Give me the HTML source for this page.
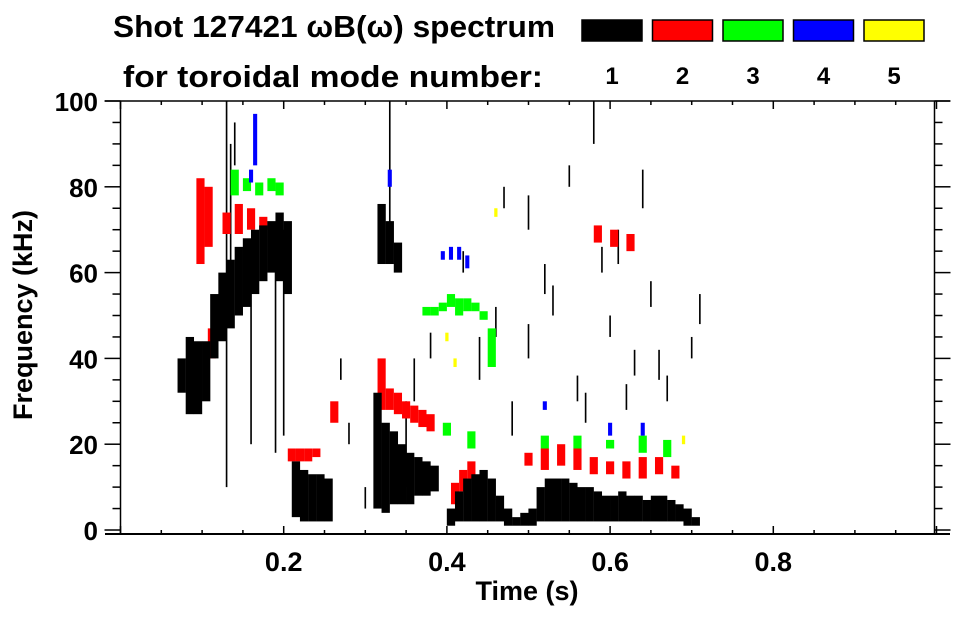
<!DOCTYPE html>
<html><head><meta charset="utf-8"><style>
body{margin:0;background:#fff;}
svg text{font-family:"Liberation Sans",sans-serif;font-weight:bold;fill:#000;}
</style></head><body>
<svg id="chart" width="963" height="615" xmlns="http://www.w3.org/2000/svg">
<text x="113" y="37" font-size="31" textLength="442" lengthAdjust="spacingAndGlyphs">Shot 127421 ωB(ω) spectrum</text>
<text x="123" y="87" font-size="31" textLength="420" lengthAdjust="spacingAndGlyphs">for toroidal mode number:</text>
<g id="legend"></g>
<g id="marks"></g>
<g id="axes"></g>
<text x="527" y="600" font-size="27" text-anchor="middle">Time (s)</text>
<text transform="translate(32,315) rotate(-90)" font-size="27" text-anchor="middle">Frequency (kHz)</text>
</svg>
<script>
const modeColors=["#000000","#ff0000","#00ff00","#0000ff","#ffff00"];
const modeLabels=["1","2","3","4","5"];
const xTicks=[0.2,0.4,0.6,0.8];
const yTicks=[0,20,40,60,80,100];
// mode 1 (black) columns
const m1T=[0.075,0.085,0.095,0.105,0.115,0.125,0.135,0.145,0.155,0.165,0.175,0.185,0.195,0.205,
0.215,0.225,0.235,0.245,0.255,
0.315,0.325,0.335,0.345,0.355,0.365,0.375,0.385,
0.32,0.33,0.34,
0.405,0.415,0.425,0.435,0.445,0.455,0.465,0.475,0.485,0.495,0.505,0.515,0.525,0.535,0.545,0.555,0.565,0.575,0.585,0.595,0.605,0.615,0.625,0.635,0.645,0.655,0.665,0.675,0.685,0.695,0.705];
const m1Lo=[32,27,27,30,40,44,47,50,52,55,58,60,58,55, 3,2,2,2,2, 5,4,6,6,6,8,8,9, 62,62,60,
1,2,2,2,2,2,2,1,1,1,1,2,2,2,2,2,2,2,2,2,2,2,2,2,2,2,2,2,2,1,1];
const m1Hi=[40,45,44,44,55,60,63,66,68,70,71,72,74,72, 16,14,13,13,12, 32,25,23,20,18,17,16,15, 76,72,67,
5,9,12,13,14,12,8,5,3,4,5,10,12,12,12,11,10,10,9,8,8,9,8,8,7,8,8,7,6,5,3];
// mode 2 (red)
const m2T=[0.098,0.108,0.13,0.145,0.16,0.175,0.112,0.21,0.22,0.23,0.24,0.262,0.32,0.33,0.34,0.35,0.36,0.37,0.38,0.41,0.42,0.43,
0.50,0.52,0.54,0.56,0.58,0.60,0.62,0.64,0.66,0.68,0.585,0.605,0.625];
const m2Lo=[62,66,69,69,70,70,40,16,16,16,17,25,28,28,27,26,25,24,23,6,9,12,15,14,15,14,13,13,12,12,13,12,67,66,65];
const m2Hi=[82,80,74,76,75,73,47,19,19,19,19,30,40,33,32,30,29,28,27,11,14,16,18,19,20,19,17,16,16,17,17,15,71,70,69];
// mode 3 (green)
const m3T=[0.14,0.155,0.17,0.185,0.195,0.375,0.385,0.395,0.405,0.415,0.425,0.435,0.445,0.455,0.52,0.56,0.6,0.64,0.67,0.4,0.43];
const m3Lo=[78,79,78,79,78,50,50,51,52,50,51,51,49,38,19,19,19,18,17,22,19];
const m3Hi=[84,82,81,82,81,52,52,53,55,54,54,53,51,47,22,22,21,22,21,25,23];
// mode 4 (blue)
const m4T=[0.16,0.165,0.395,0.405,0.415,0.425,0.33,0.52,0.6,0.64];
const m4Lo=[81,85,63,63,63,61,80,28,22,22];
const m4Hi=[84,97,65,66,66,64,84,30,25,25];
// mode 5 (yellow)
const m5T=[0.4,0.41,0.69,0.46];
const m5Lo=[44,38,20,73];
const m5Hi=[46,40,22,75];
// scattered black specks
const speckT=[0.13,0.135,0.16,0.19,0.2,0.14,0.27,0.28,0.3,0.35,0.38,0.42,0.44,0.47,0.48,0.5,0.5,0.52,0.55,0.56,0.57,0.58,0.6,0.61,0.62,0.64,0.65,0.66,0.67,0.7,0.71,0.36,0.46,0.53,0.59,0.63,0.33];
const speckLo=[10,60,20,18,22,85,35,20,5,10,40,60,35,75,22,40,70,55,80,30,25,90,45,62,28,75,52,35,30,40,48,30,45,50,60,36,70];
const speckHi=[100,90,60,65,70,95,40,25,10,30,46,65,45,80,30,48,78,62,85,36,32,100,50,70,34,84,58,42,36,45,55,40,52,57,66,42,100];
const tMin=0,tMax=1,fMin=-0.93,fMax=100;
const X0=120.5,X1=936.5,Y0=534,Y1=101;
function sx(t){return X0+(t-tMin)/(tMax-tMin)*(X1-X0);}
function sy(f){return Y0-(f-fMin)/(fMax-fMin)*(Y0-Y1);}
const NS="http://www.w3.org/2000/svg";
const marks=document.getElementById('marks');
function drawCols(T,Lo,Hi,color,dt,name){
  for(let i=0;i<T.length;i++){
    const r=document.createElementNS(NS,'rect');
    const xa=sx(T[i]-dt/2),xb=sx(T[i]+dt/2);
    r.setAttribute('x',xa);r.setAttribute('width',xb-xa);
    r.setAttribute('y',sy(Hi[i]));r.setAttribute('height',sy(Lo[i])-sy(Hi[i]));
    r.setAttribute('fill',color);
    
    
    marks.appendChild(r);
  }
}
drawCols(speckT,speckLo,speckHi,modeColors[0],0.002,'speck-mode-1');
drawCols(m3T,m3Lo,m3Hi,modeColors[2],0.01,'cell-mode-3');
drawCols(m4T,m4Lo,m4Hi,modeColors[3],0.005,'cell-mode-4');
drawCols(m5T,m5Lo,m5Hi,modeColors[4],0.004,'cell-mode-5');
drawCols(m2T,m2Lo,m2Hi,modeColors[1],0.01,'cell-mode-2');
drawCols(m1T,m1Lo,m1Hi,modeColors[0],0.0102,'cell-mode-1');
// legend
const lg=document.getElementById('legend');
for(let i=0;i<modeColors.length;i++){
  const x=582+i*70.5;
  const r=document.createElementNS(NS,'rect');
  r.setAttribute('x',x);r.setAttribute('y',20);r.setAttribute('width',60);r.setAttribute('height',21);
  r.setAttribute('fill',modeColors[i]);r.setAttribute('stroke','#000');r.setAttribute('stroke-width','1.5');
  
  
  lg.appendChild(r);
  const t=document.createElementNS(NS,'text');
  t.setAttribute('x',x+30);t.setAttribute('y',84);t.setAttribute('font-size','24');t.setAttribute('text-anchor','middle');
  t.textContent=modeLabels[i];
  
  
  lg.appendChild(t);
}
// axes
const ax=document.getElementById('axes');
function line(x1,y1,x2,y2,w,name){
  const l=document.createElementNS(NS,'line');
  l.setAttribute('x1',x1);l.setAttribute('y1',y1);l.setAttribute('x2',x2);l.setAttribute('y2',y2);
  l.setAttribute('stroke','#000');l.setAttribute('stroke-width',w);
  
  
  ax.appendChild(l);
}
line(105,Y1,950,Y1,1.5,'top-axis');
line(105,Y0,950,Y0,2,'x-axis');
line(X0,Y1,X0,Y0,1.5,'y-axis');
line(934.5,Y1,934.5,Y0,1.5,'right-axis');
for(let k=0;k<=20;k++){
  const t=k*0.05,x=sx(t);const major=k%4===0;
  line(x,Y0,x,Y0-(major?8:4),1.5,'x-tick');
  line(x,Y1,x,Y1+(major?8:4),1.5,'x-tick-top');
}
for(let k=0;k<=20;k++){
  const f=k*5,y=sy(f);const major=k%4===0;
  line(X0,y,X0-(major?16:8),y,1.5,'y-tick');
  line(934.5,y,934.5+(major?16:8),y,1.5,'y-tick-right');
}
xTicks.forEach(v=>{
  const t=document.createElementNS(NS,'text');
  t.setAttribute('x',sx(v));t.setAttribute('y',571);t.setAttribute('font-size','27');t.setAttribute('text-anchor','middle');
  t.textContent=v.toFixed(1);
  
  
  ax.appendChild(t);
});
yTicks.forEach(v=>{
  const t=document.createElementNS(NS,'text');
  t.setAttribute('x',98);t.setAttribute('y',sy(v)+1+9);t.setAttribute('font-size','26');t.setAttribute('text-anchor','end');
  t.textContent=v;
  
  
  ax.appendChild(t);
});
</script>
</body></html>
